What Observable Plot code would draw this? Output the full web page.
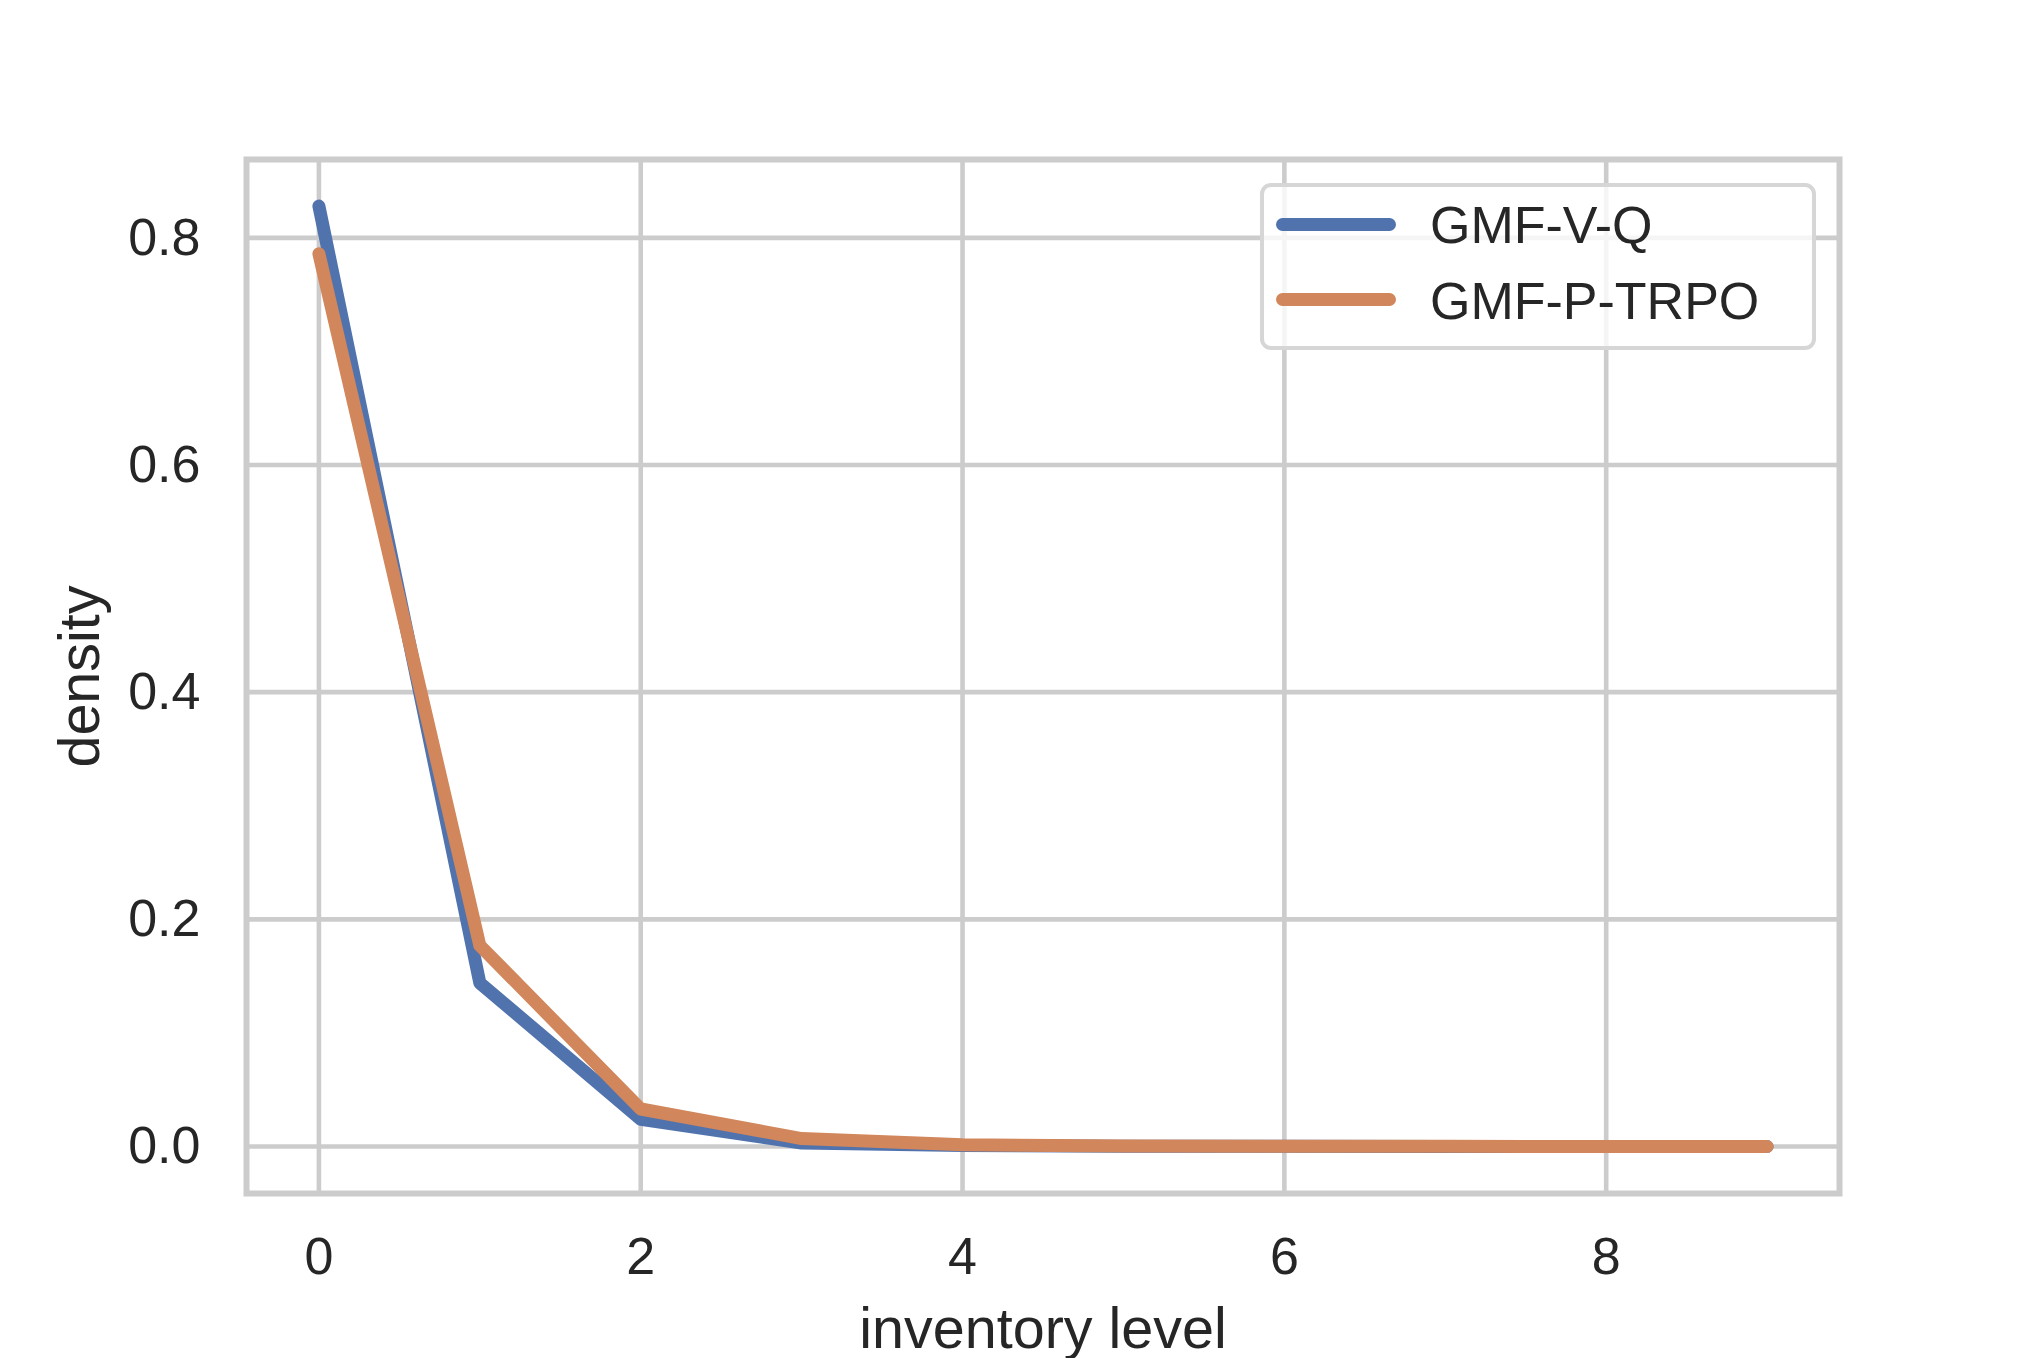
<!DOCTYPE html>
<html>
<head>
<meta charset="utf-8">
<script src="https://cdn.jsdelivr.net/npm/d3@7"></script>
<script src="https://cdn.jsdelivr.net/npm/@observablehq/plot@0.6"></script>
<style>
  html, body { margin: 0; padding: 0; background: #ffffff; }
  #wrap { position: relative; width: 2036px; height: 1358px; font-family: "Liberation Sans", Arial, sans-serif; color: #262626; }
  #legend { position: absolute; left: 1260px; top: 183px; width: 556px; height: 167px; box-sizing: border-box;
            border: 4.7px solid #d6d6d6; border-radius: 11px; background: rgba(255,255,255,0.8); }
  .sw { position: absolute; left: 12px; width: 120px; height: 13px; border-radius: 6.5px; }
  .lt { position: absolute; left: 166px; font-size: 52px; line-height: 52px; white-space: nowrap; color: #262626; }
</style>
</head>
<body>
<div id="wrap"></div>
<script>
// ---- data ----
const inventoryLevels = [0, 1, 2, 3, 4, 5, 6, 7, 8, 9];
const seriesNames = ["GMF-V-Q", "GMF-P-TRPO"];
const seriesColors = ["#5173ad", "#d1865b"];
const gmfVQ     = [0.828, 0.144, 0.024, 0.003, 0.0008, 0.0003, 0.0001, 0.0, 0.0, 0.0];
const gmfPTRPO  = [0.786, 0.177, 0.033, 0.007, 0.0015, 0.0005, 0.0002, 0.0001, 0.0, 0.0];
const xTicks = [0, 2, 4, 6, 8];
const yTicks = [0.0, 0.2, 0.4, 0.6, 0.8];
const xLabel = "inventory level";
const yLabel = "density";

// table built from the arrays
const rows = [];
[gmfVQ, gmfPTRPO].forEach((vals, i) => {
  inventoryLevels.forEach((x, j) => rows.push({series: seriesNames[i], x, y: vals[j]}));
});

const chart = Plot.plot({
  width: 2036,
  height: 1358,
  marginLeft: 246,
  marginRight: 197,
  marginTop: 159,
  marginBottom: 165,
  style: {fontFamily: "'Liberation Sans', Arial, sans-serif", color: "#262626", background: "#ffffff"},
  x: {domain: [-0.45, 9.45]},
  y: {domain: [-0.0414, 0.869]},
  color: {domain: seriesNames, range: seriesColors},
  marks: [
    Plot.gridX(xTicks, {stroke: "#cccccc", strokeOpacity: 1, strokeWidth: 4.6}),
    Plot.gridY(yTicks, {stroke: "#cccccc", strokeOpacity: 1, strokeWidth: 4.6}),
    Plot.frame({stroke: "#cccccc", strokeWidth: 6}),
    Plot.axisX(xTicks, {tickSize: 0, tickPadding: 44, fontSize: 52, label: null, tickFormat: d => String(d)}),
    Plot.axisY(yTicks, {tickSize: 0, tickPadding: 46, fontSize: 52, label: null, tickFormat: d3.format(".1f")}),
    Plot.line(rows, {x: "x", y: "y", z: "series", stroke: "series", strokeWidth: 13,
                     strokeLinecap: "round", strokeLinejoin: "round"}),
    Plot.text([xLabel], {text: d => d, frameAnchor: "bottom", lineAnchor: "bottom", textAnchor: "middle", dy: 154, fontSize: 57.5, fill: "#262626"}),
    Plot.text([yLabel], {text: d => d, frameAnchor: "left", rotate: -90, lineAnchor: "bottom", textAnchor: "middle", dx: -148, fontSize: 57.5, fill: "#262626"})
  ]
});

const wrap = document.getElementById("wrap");
wrap.appendChild(chart);

// legend (inside the axes, upper right)
const legend = document.createElement("div");
legend.id = "legend";
const swTops = [30.8, 105.8];
const txtTops = [12.4, 87.9];
seriesNames.forEach((name, i) => {
  const sw = document.createElement("div");
  sw.className = "sw";
  sw.style.top = swTops[i] + "px";
  sw.style.background = seriesColors[i];
  legend.appendChild(sw);
  const t = document.createElement("div");
  t.className = "lt";
  t.style.top = txtTops[i] + "px";
  t.textContent = name;
  legend.appendChild(t);
});
wrap.appendChild(legend);
</script>
</body>
</html>
